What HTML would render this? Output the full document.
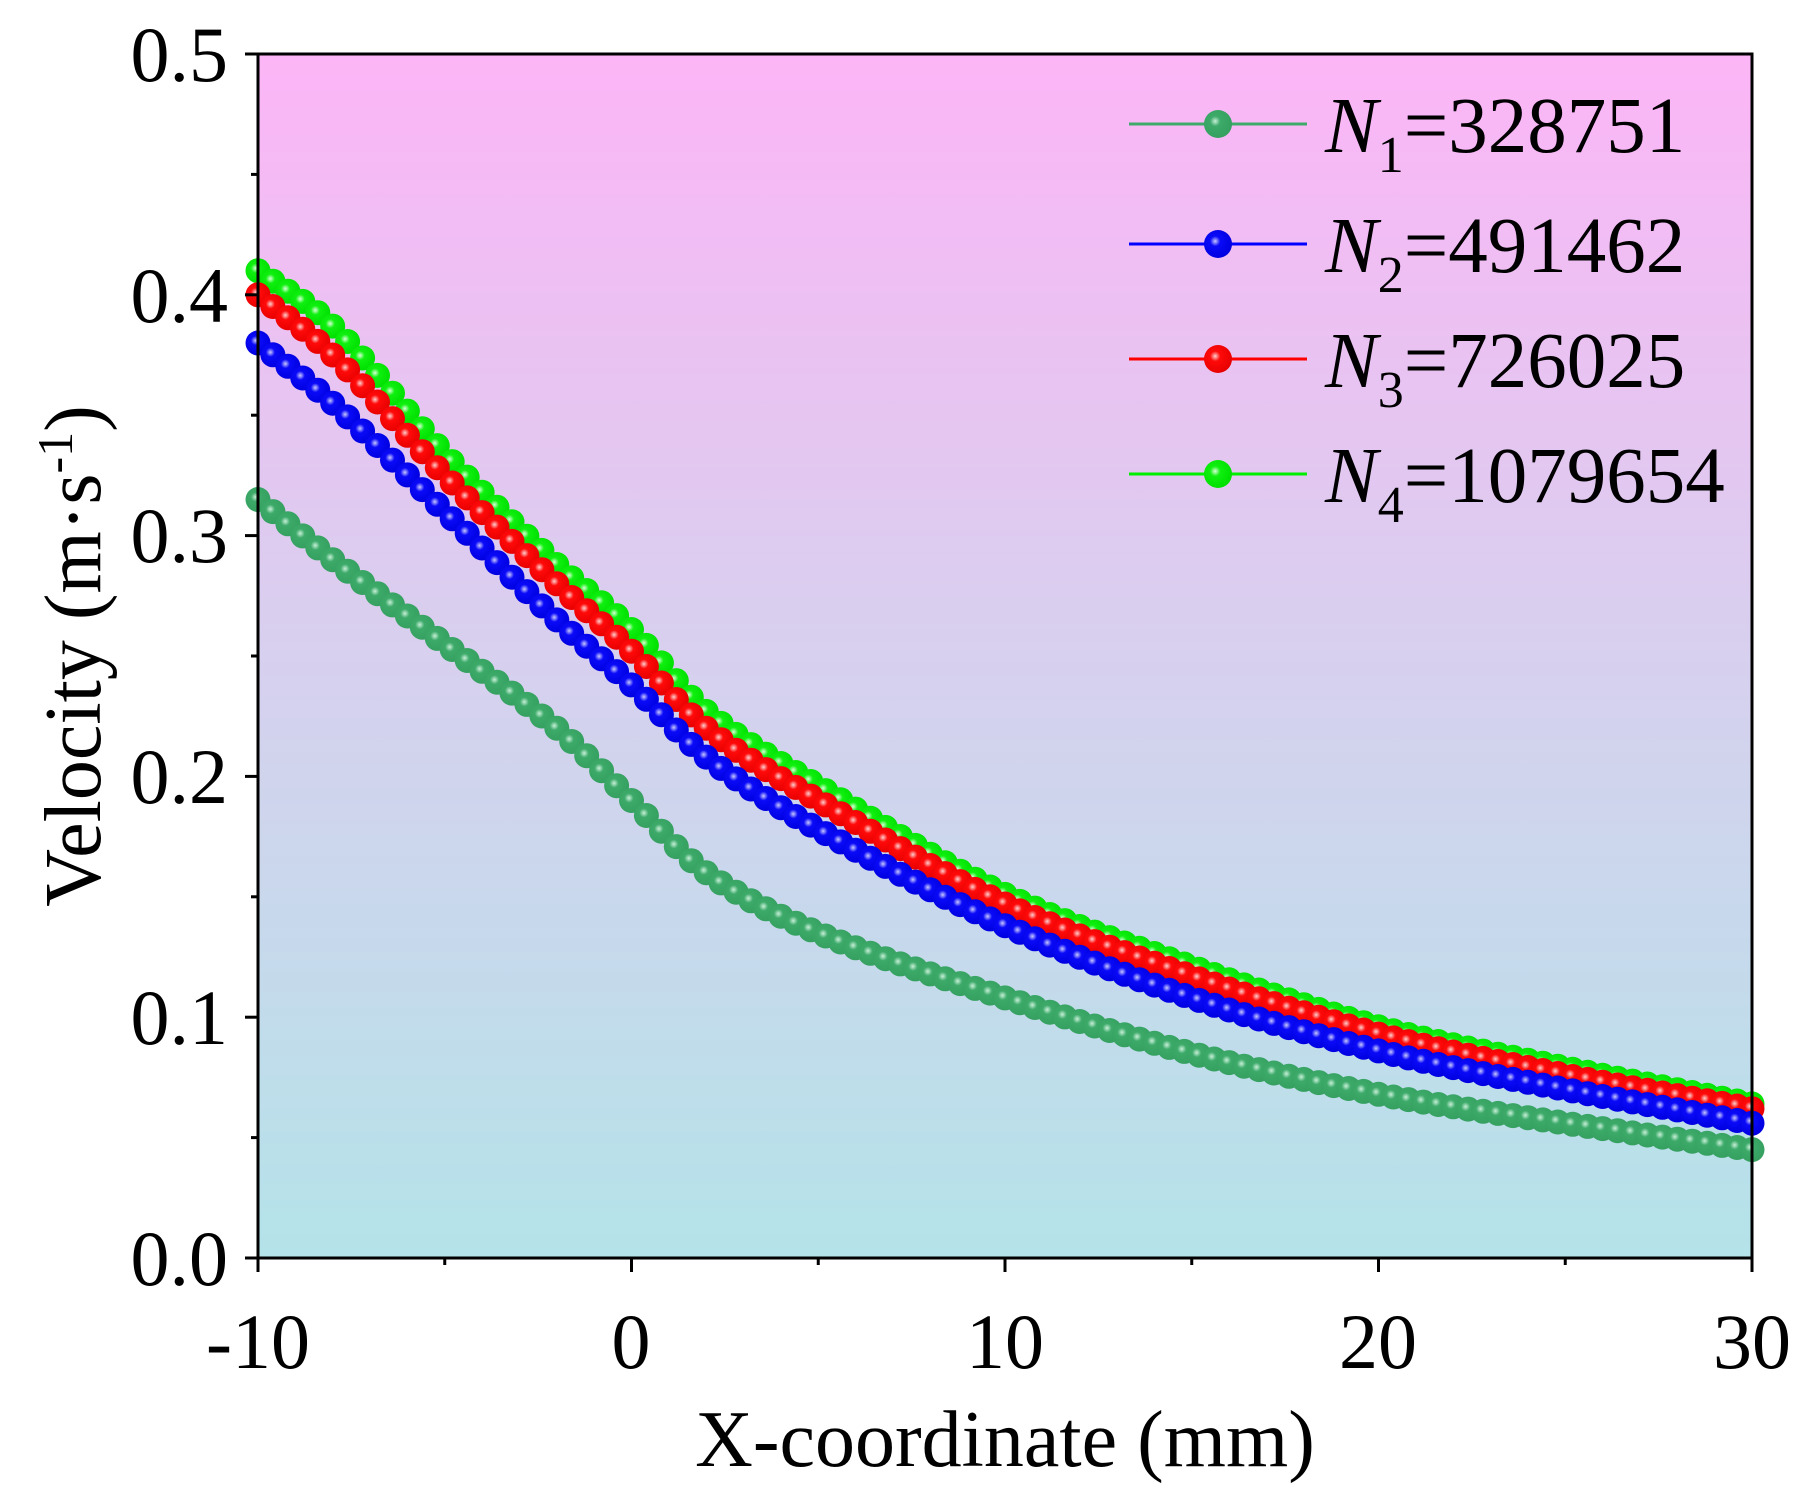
<!DOCTYPE html>
<html><head><meta charset="utf-8"><style>
html,body{margin:0;padding:0;background:#fff}
svg{display:block}
text{font-family:"Liberation Serif",serif;fill:#000}
</style></head><body>
<svg id="s" width="1806" height="1504" viewBox="0 0 1806 1504" xmlns="http://www.w3.org/2000/svg">
<defs>
<linearGradient id="bg" x1="0" y1="0" x2="0" y2="1">
<stop offset="0" stop-color="#fcb5f6"/>
<stop offset="0.5" stop-color="#d7d0ee"/>
<stop offset="1" stop-color="#b4e3e9"/>
</linearGradient>
<radialGradient id="g1" cx="0.4" cy="0.4" r="0.6"><stop offset="0" stop-color="#c8f0d8"/><stop offset="0.3" stop-color="#3daa6a"/><stop offset="1" stop-color="#35a060"/></radialGradient>
<radialGradient id="g2" cx="0.4" cy="0.4" r="0.6"><stop offset="0" stop-color="#c8c8ff"/><stop offset="0.3" stop-color="#0a0af8"/><stop offset="1" stop-color="#0000e0"/></radialGradient>
<radialGradient id="g3" cx="0.4" cy="0.4" r="0.6"><stop offset="0" stop-color="#ffd0d0"/><stop offset="0.3" stop-color="#ff0a0a"/><stop offset="1" stop-color="#e80000"/></radialGradient>
<radialGradient id="g4" cx="0.4" cy="0.4" r="0.6"><stop offset="0" stop-color="#d8ffd8"/><stop offset="0.3" stop-color="#10f010"/><stop offset="1" stop-color="#00e000"/></radialGradient>
</defs>
<rect x="258" y="54" width="1494" height="1204" fill="url(#bg)"/>
<g id="data"></g>
<rect x="258" y="54" width="1494" height="1204" fill="none" stroke="#000" stroke-width="3"/>
<g id="ticks" stroke="#000" stroke-width="3"></g>
<g font-size="78" text-anchor="end">
<text x="228" y="1285">0.0</text><text x="228" y="1044">0.1</text><text x="228" y="803">0.2</text><text x="228" y="562">0.3</text><text x="228" y="322">0.4</text><text x="228" y="81">0.5</text>
</g>
<g font-size="78" text-anchor="middle">
<text x="258" y="1368">-10</text><text x="631" y="1368">0</text><text x="1005" y="1368">10</text><text x="1378" y="1368">20</text><text x="1752" y="1368">30</text>
</g>
<text x="1005" y="1466" font-size="80" text-anchor="middle">X-coordinate (mm)</text>
<text transform="translate(100,656) rotate(-90)" font-size="80" text-anchor="middle">Velocity  (m·s<tspan dy="-28" font-size="50">-1</tspan><tspan dy="28">)</tspan></text>
<g id="leg" font-size="79"></g>
</svg>
<script>
function X(v){return 258+(v+10)*37.35}
function Y(v){return 1258-v*2408}
var xs=[-10,-8,-5,-2,0,2,5,10,15,20,25,30];
var series=[
 {c:'#3daa6a',g:'g1',v:[0.315,0.29,0.255,0.22,0.19,0.16,0.135,0.108,0.085,0.068,0.056,0.045]},
 {c:'#0000ff',g:'g2',v:[0.38,0.355,0.31,0.265,0.238,0.208,0.178,0.138,0.108,0.086,0.07,0.056]},
 {c:'#ff0000',g:'g3',v:[0.40,0.375,0.325,0.28,0.252,0.22,0.19,0.147,0.117,0.093,0.076,0.062]},
 {c:'#00ee00',g:'g4',v:[0.41,0.387,0.334,0.288,0.261,0.227,0.196,0.151,0.121,0.096,0.079,0.064]}
];
function interp(x,v){
 for(var i=0;i<xs.length-1;i++){if(x<=xs[i+1]){var t=(x-xs[i])/(xs[i+1]-xs[i]);
  var p0=v[Math.max(i-1,0)],p1=v[i],p2=v[i+1],p3=v[Math.min(i+2,v.length-1)];
  var h=xs[i+1]-xs[i];
  var m1=(p2-p0)/((xs[Math.min(i+1,xs.length-1)]-xs[Math.max(i-1,0)]))*h;
  var m2=(p3-p1)/((xs[Math.min(i+2,xs.length-1)]-xs[i]))*h;
  var t2=t*t,t3=t2*t;
  return (2*t3-3*t2+1)*p1+(t3-2*t2+t)*m1+(-2*t3+3*t2)*p2+(t3-t2)*m2;}}
 return v[v.length-1];}
var D=document.getElementById('data'),h='';
[3,2,1,0].forEach(function(idx){var s=series[idx];
 var pts=[];for(var k=0;k<=100;k++){var x=-10+k*0.4;pts.push(X(x).toFixed(1)+','+Y(interp(x,s.v)).toFixed(1));}
 h+='<polyline points="'+pts.join(' ')+'" fill="none" stroke="'+s.c+'" stroke-width="3"/>';
 pts.forEach(function(p){var a=p.split(',');h+='<circle cx="'+a[0]+'" cy="'+a[1]+'" r="12.5" fill="url(#'+s.g+')"/>';});
});
D.innerHTML=h;
var T='';
for(var i=0;i<=10;i++){var y=1258-i*120.4;T+='<line x1="'+(i%2?251:245)+'" y1="'+y+'" x2="258" y2="'+y+'"/>';}
for(var i=0;i<=8;i++){var x=258+i*186.75;T+='<line x1="'+x+'" y1="1258" x2="'+x+'" y2="'+(i%2?1265:1272)+'"/>';}
document.getElementById('ticks').innerHTML=T;
var L=document.getElementById('leg'),lh='',names=[['1','328751'],['2','491462'],['3','726025'],['4','1079654']],ly=[124,244,359,474];
series.forEach(function(s,i){var y=ly[i];
 lh+='<line x1="1129" y1="'+y+'" x2="1307" y2="'+y+'" stroke="'+s.c+'" stroke-width="3"/>';
 lh+='<circle cx="1218" cy="'+y+'" r="14" fill="url(#'+s.g+')"/>';
 lh+='<text x="1325" y="'+(y+28)+'"><tspan font-style="italic">N</tspan><tspan font-size="52" dy="20">'+names[i][0]+'</tspan><tspan dy="-20">='+names[i][1]+'</tspan></text>';
});
L.innerHTML=lh;
</script>
</body></html>
